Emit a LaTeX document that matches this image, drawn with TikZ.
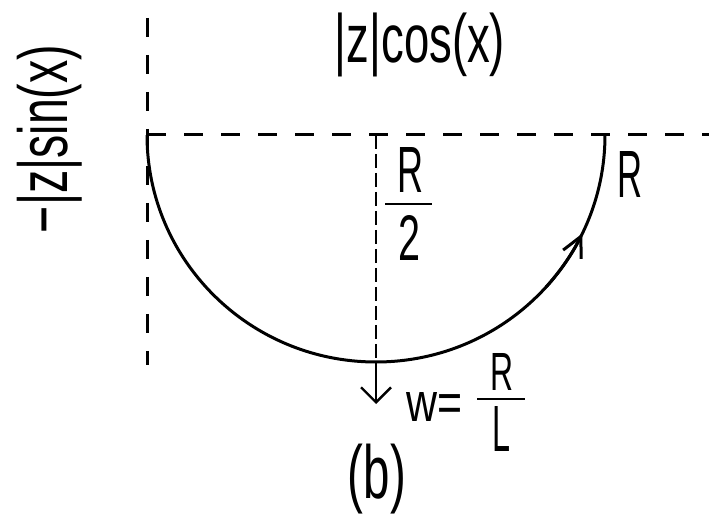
\documentclass[tikz,border=0pt]{standalone}
\usepackage{fontspec}
\setmainfont{Liberation Sans}
\usepackage{graphicx}
\usetikzlibrary{arrows.meta}
\newcommand{\fitbox}[3]{\resizebox*{#1}{#2}{#3}}
\begin{document}
\begin{tikzpicture}[x=1pt,y=1pt,
  axisline/.style={line width=3pt, dash pattern=on 19pt off 18pt},
  midline/.style={line width=2.4pt, dash pattern=on 14pt off 5pt},
  curve/.style={line width=3pt},
  lbl/.style={inner sep=0pt, outer sep=0pt},
  fracbar/.style={line width=2.2pt}]
\useasboundingbox (0,0) rectangle (709,517);
% key points
\coordinate (C) at (376,382);
\coordinate (L1) at (147,499);
\coordinate (L2) at (147,152);
\coordinate (H1) at (147,382);
\coordinate (H2) at (709,382);
\coordinate (B) at (376,155);
\coordinate (T) at (376,113);
% axes
\draw[axisline] (L1) -- (L2);
\draw[axisline] (H1) -- (H2);
% semicircle
\draw[curve] (H1) arc[start angle=180, end angle=360, x radius=229, y radius=227];
\path (C) ++(318:229 and 227) coordinate (a1);
\draw[curve, -{Straight Barb[length=20pt,width=20pt]}] (a1) arc[start angle=318, end angle=334.3, x radius=229, y radius=227];
% centre line and arrow
\draw[midline] (C) -- (B);
\draw[line width=2.4pt, -{Straight Barb[length=15pt,width=30pt]}] (B) -- (T);
% labels
\node[lbl] (cosx) at (420,472) {\fitbox{170pt}{64pt}{|z|cos(x)}};
\node[lbl, rotate=90] (sinx) at (50,378) {\fitbox{188pt}{65pt}{−|z|sin(x)}};
\node[lbl] (rnum) at (410,346.5) {\fitbox{26pt}{45pt}{R}};
\draw[fracbar] (385,313) -- (432,313);
\node[lbl] (rden) at (409,279.5) {\fitbox{22pt}{45pt}{2}};
\node[lbl] (rend) at (629.5,342) {\fitbox{25pt}{46pt}{R}};
\node[lbl] (weq) at (435,109.5) {\fitbox{56pt}{29pt}{w=}};
\node[lbl] (wnum) at (501.5,145.5) {\fitbox{23pt}{37pt}{R}};
\draw[fracbar] (477,118) -- (525,118);
\node[lbl] (wden) at (501,88.5) {\fitbox{18pt}{45pt}{L}};
\node[lbl] (cap) at (377,37.5) {\fitbox{58pt}{70pt}{(b)}};
\end{tikzpicture}
\end{document}
